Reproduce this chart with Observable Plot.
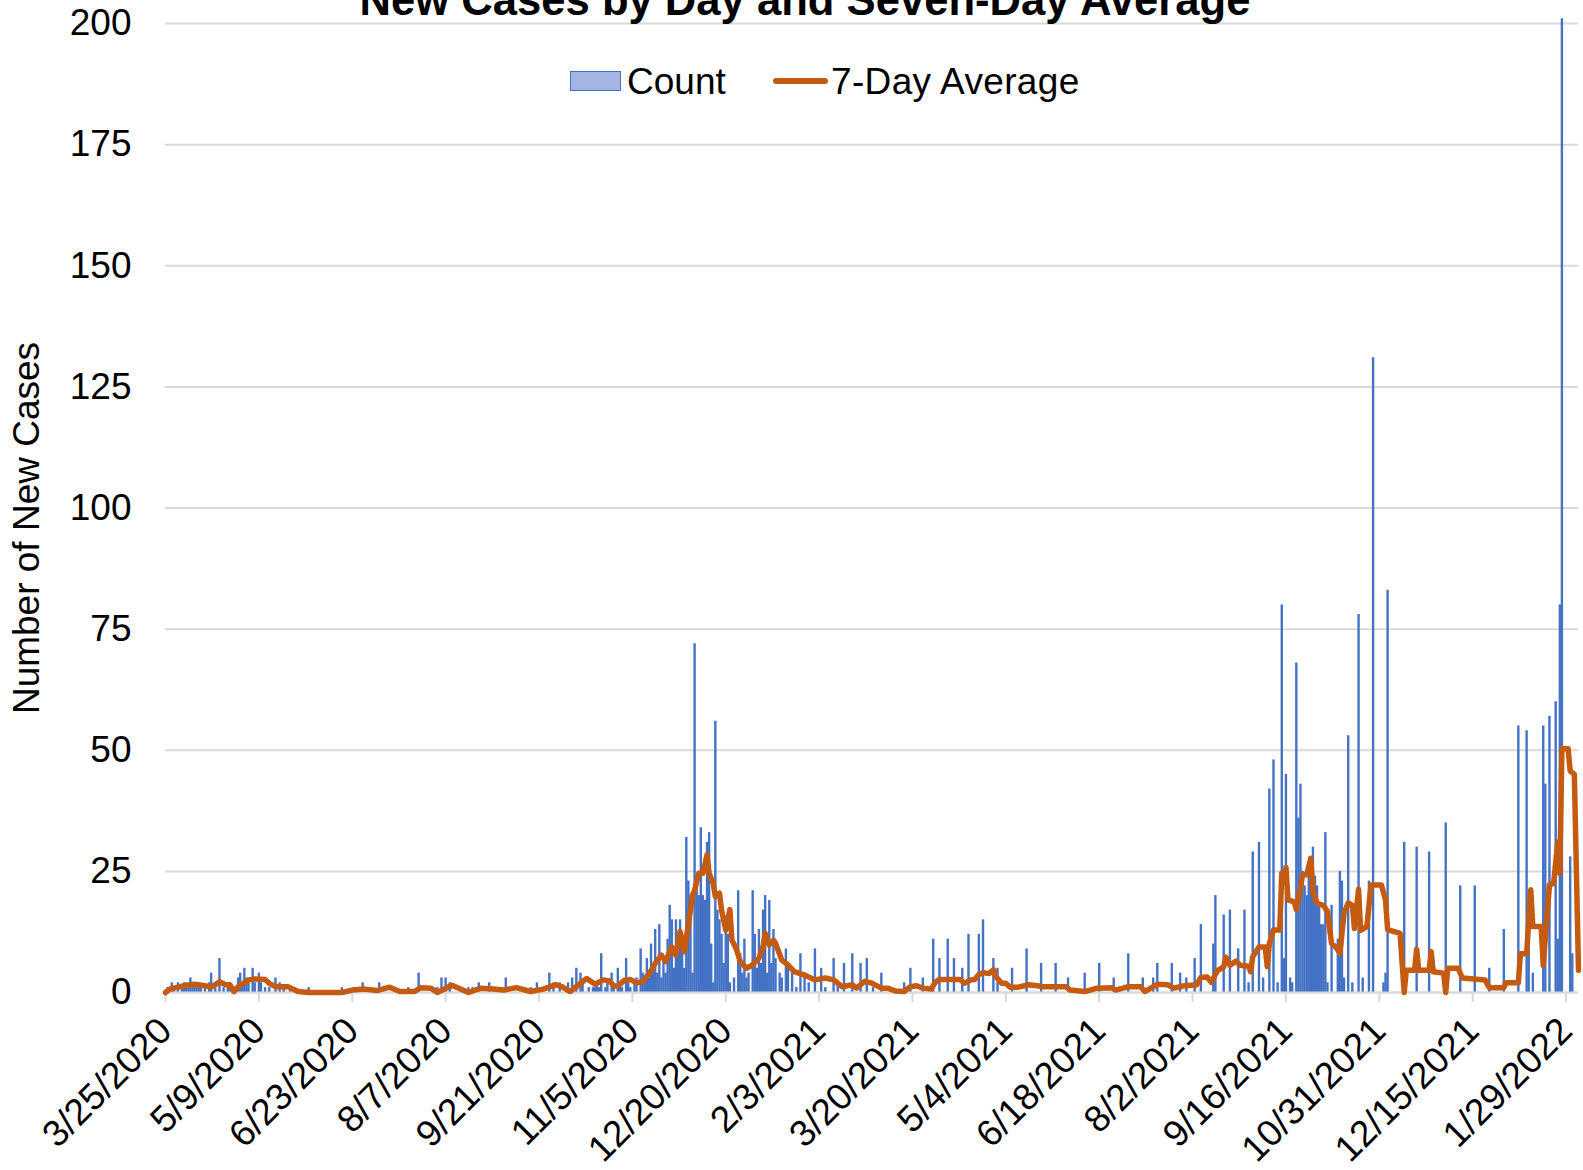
<!DOCTYPE html>
<html>
<head>
<meta charset="utf-8">
<script src="https://cdn.jsdelivr.net/npm/d3@7"></script>
<script src="https://cdn.jsdelivr.net/npm/@observablehq/plot@0.6"></script>
<style>
  html, body { margin: 0; padding: 0; background: #fff; }
  #wrap { position: relative; width: 1583px; height: 1170px; overflow: hidden; font-family: "Liberation Sans", Arial, sans-serif; }
  .ovl { position: absolute; white-space: nowrap; line-height: 1; color: #000; }
</style>
</head>
<body>
<div id="wrap">
  <div id="chart"></div>
  <div class="ovl" id="title" style="left:805px; top:-21px; transform:translateX(-50%); font-size:43.6px; font-weight:bold;">New Cases by Day and Seven-Day Average</div>
  <div class="ovl" style="left:570px; top:71px; width:49px; height:18px; background:#a4b5e3; border:1px solid #4472c4;"></div>
  <div class="ovl" id="lgCount" style="left:627px; top:63px; font-size:37px;">Count</div>
  <div class="ovl" style="left:773px; top:78px; width:55px; height:6px; background:#c55a11; border-radius:3px;"></div>
  <div class="ovl" id="lgAvg" style="left:831px; top:63px; font-size:37px; letter-spacing:0.35px;">7-Day Average</div>
</div>
<script>
// ---- data ----
const startDate = "2020-03-25";
const endDate = "2022-02-04";

// day offsets (since startDate) of daily counts and their values (zero days omitted)
const countDay = [
  1,3,4,6,8,9,10,11,12,13,14,15,16,17,19,21,22,24,26,28,30,31,33,35,36,37,38,39,40,42,43,45,46,48,50,53,55,57,60,
  69,85,91,93,95,98,103,117,122,131,133,135,137,146,148,151,156,164,173,176,179,185,187,190,194,196,198,200,201,204,206,207,
  208,209,210,212,213,215,216,218,219,220,222,223,224,226,227,229,230,231,232,233,234,235,236,237,238,239,240,241,242,243,244,245,246,247,248,249,250,
  251,252,253,254,255,256,257,258,259,260,261,262,263,264,265,266,267,268,269,270,271,272,274,276,277,278,279,280,281,283,284,285,286,287,288,289,290,
  291,292,293,294,296,297,299,300,302,304,306,308,310,313,316,318,322,324,327,331,335,338,341,345,
  356,359,365,370,373,377,380,384,387,392,394,399,401,408,415,422,429,435,443,450,457,464,471,476,478,485,489,492,496,499,
  505,506,510,513,517,520,522,524,527,529,532,534,536,538,539,540,542,543,545,546,547,548,549,550,551,552,553,554,555,556,557,558,559,560,
  562,565,566,567,568,570,572,575,577,580,582,587,588,589,
  597,603,609,617,624,631,638,645,652,656,657,659,664,665,667,670,671,672,673,677,678
];
const countValue = [
  1,2,1,2,1,2,2,1,3,2,2,1,2,1,1,2,4,1,7,1,2,2,1,3,4,2,5,3,2,5,2,4,2,1,1,3,2,1,1,
  1,1,1,1,2,1,2,1,4,1,3,3,2,1,1,2,2,3,1,1,2,4,2,2,2,3,5,4,2,1,1,1,
  2,1,8,1,2,4,1,5,2,1,7,2,1,2,3,9,4,2,7,3,10,5,13,4,14,3,7,4,11,18,15,5,15,10,15,12,5,
  32,23,20,4,72,24,20,34,20,19,31,33,10,2,56,17,15,12,6,15,12,2,3,21,8,4,11,3,4,21,12,5,13,6,17,20,4,
  19,6,13,7,4,3,9,6,4,1,8,4,2,9,5,1,7,2,6,8,6,7,1,4,
  2,5,3,11,7,11,7,5,12,12,15,7,5,5,9,6,6,3,4,6,3,8,3,3,6,6,4,3,7,14,
  10,20,16,17,9,17,2,29,31,3,42,48,2,80,7,45,3,2,68,36,43,25,22,20,25,22,30,24,22,18,14,14,33,2,
  18,11,25,23,3,53,2,78,3,23,131,2,4,83,
  31,30,29,35,22,22,5,13,55,54,13,4,55,43,57,60,11,80,201,28,8
];

// seven-day average at these day offsets
const avgDay = [
  0,2,4,9,14,19,22,24,26,29,31,33,35,40,43,48,50,53,59,64,69,85,90,96,102,108,113,120,123,128,131,138,146,152,158,163,169,176,182,188,191,195,
  203,207,211,214,216,218,221,224,227,230,232,234,236,239,241,244,246,248,250,252,254,255,257,259,261,262,264,265,267,268,270,272,273,275,277,280,
  283,286,288,289,291,293,294,297,300,303,308,313,318,322,326,331,333,337,340,345,348,352,356,359,362,365,369,371,373,383,385,388,390,392,394,397,
  399,400,401,403,405,407,411,416,420,423,434,436,443,449,456,458,464,470,472,478,483,486,491,497,499,502,504,507,510,511,513,516,518,522,523,524,
  527,530,531,532,534,537,538,539,540,541,544,545,547,548,550,552,553,555,558,560,562,564,566,568,570,572,573,575,576,579,581,586,588,589,595,597,
  598,602,603,604,609,610,611,616,617,618,623,625,636,638,645,646,652,653,656,658,659,663,664,667,669,671,672,673,676,677,679,681
];
const avgValue = [
  0,0.7,0.9,1.4,1.7,1.4,1.1,1.6,2.2,1.6,1.6,0.2,1.2,2.6,2.8,2.7,1.9,1.2,1.2,0.2,0,0,0.5,0.7,0.4,1.1,0.2,0.2,1.0,0.9,0,1.5,0,0.9,0.7,0.5,1.0,0.2,0.7,1.6,1.2,0.2,
  2.9,1.7,2.6,2.4,1.4,1.3,2.5,2.7,2.0,2.2,3.3,4.5,6,7.7,6.4,9.4,7.7,12.6,8.4,14,20,21.1,24.6,24.6,28.4,24.6,22.5,19.8,20.5,17,12.9,17.1,10.8,9.1,6.4,5,
  5.7,7.1,9.5,12.2,9.8,10.8,10.2,6.7,5.7,4.3,3.6,2.6,3,2.6,1.2,1.6,0.9,2.3,2.0,0.9,0.9,0.3,0.2,1.2,1.4,0.9,0.7,2.1,2.7,2.7,1.9,2.6,2.7,3.7,4.1,3.9,
  4.7,3.4,2.9,1.9,1.9,1.1,1.1,1.6,1.4,1.2,1.2,0.5,0.2,0.9,1.0,0.5,1.2,1.2,0.2,1.7,1.6,0.9,1.4,1.6,3.1,3.2,2.1,4.5,5.3,7.3,5.6,6.5,5.6,5.4,4.3,7.4,
  9.4,9.4,5.3,10.1,12.9,12.9,24.6,23.2,25.8,19.1,18.7,17.1,21.5,24.3,24.3,27.7,20.8,18.4,18,16.7,10.1,9.4,8.1,16.3,18.5,18,13.2,21.3,12.8,13.6,22.2,22.2,19.1,13,12.2,0,
  4.6,4.6,8.9,4.6,4.6,8.4,4.3,4,0,5,5,3,2.6,1,1,2,2,8,8,21.2,13.6,13.6,5.6,22.2,22.5,31,24.6,50.3,50.3,45.7,45,4.6
];

const xTickLabels = ["3/25/2020","5/9/2020","6/23/2020","8/7/2020","9/21/2020","11/5/2020","12/20/2020","2/3/2021",
  "3/20/2021","5/4/2021","6/18/2021","8/2/2021","9/16/2021","10/31/2021","12/15/2021","1/29/2022"];
const yTicks = [0,25,50,75,100,125,150,175,200];
const yTitle = "Number of New Cases";

// ---- build ----
const start = new Date(startDate + "T00:00:00Z");
const end = new Date(endDate + "T00:00:00Z");
const dayDate = d => d3.utcDay.offset(start, d);
const counts = countDay.map((d, i) => ({date: dayDate(d), value: countValue[i]}));
const avg = avgDay.map((d, i) => ({date: dayDate(d), value: avgValue[i]}));
const parseTick = d3.utcParse("%m/%d/%Y");
const tickDates = xTickLabels.map(parseTick);
const fmt = d3.utcFormat("%-m/%-d/%Y");

const chart = Plot.plot({
  width: 1583,
  height: 1170,
  marginLeft: 165,
  marginRight: 5,
  marginTop: 23,
  marginBottom: 178,
  style: {fontFamily: "'Liberation Sans', Arial, sans-serif", fontSize: "37px", color: "#000", background: "#fff"},
  x: {type: "utc", domain: [start, end]},
  y: {domain: [0, 200]},
  marks: [
    Plot.gridY(yTicks, {stroke: "#d9d9d9", strokeOpacity: 1, strokeWidth: 2}),
    Plot.ruleX(counts, {x: "date", y: "value", stroke: "#4472c4", strokeWidth: 2.4}),
    Plot.ruleY([0], {stroke: "#d9d9d9", strokeWidth: 2}),
    Plot.axisX({ticks: tickDates, tickFormat: fmt, tickRotate: -45, tickSize: 10, tickPadding: 22, stroke: "#d9d9d9", strokeOpacity: 1, strokeWidth: 2, label: null, fill: "#000"}),
    Plot.axisY({ticks: yTicks, tickSize: 0, tickPadding: 34, label: null, fill: "#000"}),
    Plot.line(avg, {x: "date", y: "value", stroke: "#c55a11", strokeWidth: 5.5, strokeLinejoin: "round", strokeLinecap: "round"}),
    Plot.text([yTitle], {frameAnchor: "left", dx: -138, dy: 20, rotate: -90, fontSize: 37, fill: "#000", textAnchor: "middle", lineAnchor: "middle"})
  ]
});
document.getElementById("chart").appendChild(chart);
</script>
</body>
</html>
